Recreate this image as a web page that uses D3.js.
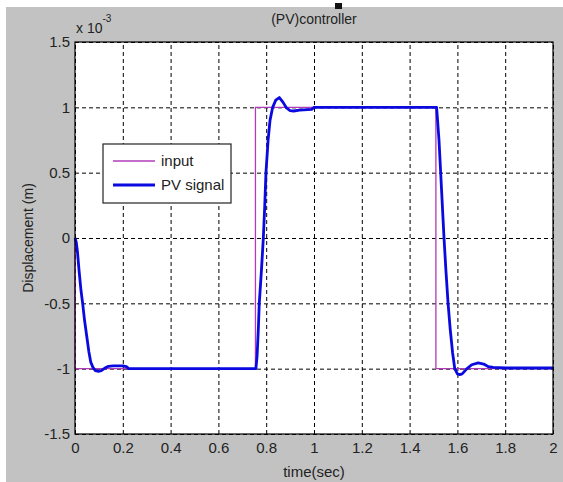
<!DOCTYPE html>
<html>
<head>
<meta charset="utf-8">
<script src="https://cdn.jsdelivr.net/npm/d3@7"></script>
<style>
  body { margin: 0; background: #fff; }
  svg { display: block; font-family: "Liberation Sans", Arial, sans-serif; }
</style>
</head>
<body>
<div id="chart"></div>
<script>
// input step signal (x 10^-3 m)
let inputT = [0, 0, 0.755, 0.755, 1.51, 1.51, 2]
let inputV = [0, -1, -1, 1, 1, -1, -1]

// PV controller response (x 10^-3 m)
let pvT = [0, 0.005, 0.01, 0.017, 0.025, 0.032, 0.04, 0.049, 0.058, 0.066, 0.075, 0.085, 0.098, 0.11, 0.125, 0.14, 0.16, 0.2, 0.215, 0.225,
    0.757, 0.762, 0.767, 0.771, 0.78, 0.788, 0.794, 0.799, 0.808, 0.816, 0.827, 0.84, 0.855, 0.87, 0.885, 0.9, 0.915, 0.94, 0.99, 1.0,
    1.513, 1.517, 1.523, 1.53, 1.537, 1.544, 1.552, 1.561, 1.57, 1.58, 1.589, 1.6, 1.61, 1.62, 1.64, 1.66, 1.687, 1.71, 1.73, 1.75, 1.8, 2.0]
let pvV = [0, -0.03, -0.1, -0.25, -0.4, -0.5, -0.63, -0.75, -0.87, -0.95, -0.99, -1.015, -1.02, -1.015, -0.995, -0.982, -0.978, -0.978, -0.985, -1.0,
    -1.0, -0.9, -0.7, -0.5, -0.25, 0, 0.25, 0.5, 0.75, 0.9, 1.0, 1.055, 1.075, 1.04, 0.995, 0.975, 0.972, 0.978, 0.985, 1.0,
    1.0, 0.9, 0.75, 0.5, 0.25, 0, -0.25, -0.5, -0.7, -0.88, -1.0, -1.04, -1.045, -1.04, -1.0, -0.97, -0.955, -0.965, -0.985, -0.99, -0.995, -0.995]

let xTicks = [0, 0.2, 0.4, 0.6, 0.8, 1, 1.2, 1.4, 1.6, 1.8, 2]
let yTicks = [-1.5, -1, -0.5, 0, 0.5, 1, 1.5]

let width = 563, height = 482
let plotL = 75, plotR = 553, plotT = 42, plotB = 434

let svg = d3.select("#chart").append("svg")
    .attr("width", width)
    .attr("height", height)

// figure background
svg.append("rect")
    .attr("x", 6).attr("y", 7)
    .attr("width", width - 6).attr("height", height - 7)
    .attr("fill", "#c2c2c2")
svg.append("rect")
    .attr("x", 335).attr("y", 3)
    .attr("width", 7).attr("height", 6)
    .attr("fill", "#111")

let x = d3.scaleLinear().domain([0, 2]).range([plotL, plotR])
let y = d3.scaleLinear().domain([-1.5, 1.5]).range([plotB, plotT])

svg.append("rect")
    .attr("x", plotL).attr("y", plotT)
    .attr("width", plotR - plotL).attr("height", plotB - plotT)
    .attr("fill", "#fff")

//坐标轴 + 网格
let xAxis = svg.append("g")
    .attr("transform", `translate(0,${plotB})`)
    .call(d3.axisBottom(x).tickValues(xTicks).tickSize(-(plotB - plotT)).tickPadding(8)
        .tickFormat(d => String(d)))
let yAxis = svg.append("g")
    .attr("transform", `translate(${plotL},0)`)
    .call(d3.axisLeft(y).tickValues(yTicks).tickSize(-(plotR - plotL)).tickPadding(5)
        .tickFormat(d => String(d)))

for (let ax of [xAxis, yAxis]) {
    ax.select(".domain").remove()
    ax.selectAll("line")
        .attr("stroke", "#000")
        .attr("stroke-width", 1)
        .attr("stroke-dasharray", "4,3")
    ax.selectAll("text")
        .attr("font-size", 15)
        .attr("fill", "#222")
        .attr("font-family", "Liberation Sans, Arial, sans-serif")
}

let line = d3.line()
    .x(d => x(d[0]))
    .y(d => y(d[1]))

svg.append("path")
    .datum(d3.zip(inputT, inputV))
    .attr("d", line)
    .attr("fill", "none")
    .attr("stroke", "#b03cb8")
    .attr("stroke-width", 1.3)

svg.append("path")
    .datum(d3.zip(pvT, pvV))
    .attr("d", line)
    .attr("fill", "none")
    .attr("stroke", "#0a0ae0")
    .attr("stroke-width", 2.8)
    .attr("stroke-linejoin", "round")

// frame
svg.append("rect")
    .attr("x", plotL).attr("y", plotT)
    .attr("width", plotR - plotL).attr("height", plotB - plotT)
    .attr("fill", "none")
    .attr("stroke", "#000")
    .attr("stroke-width", 1.2)

// texts
svg.append("text")
    .attr("x", (plotL + plotR) / 2).attr("y", 24)
    .attr("text-anchor", "middle")
    .attr("font-size", 14)
    .attr("fill", "#222")
    .text("(PV)controller")
svg.append("text")
    .attr("x", (plotL + plotR) / 2).attr("y", 477)
    .attr("text-anchor", "middle")
    .attr("font-size", 15)
    .attr("fill", "#222")
    .text("time(sec)")
svg.append("text")
    .attr("transform", `translate(33,${(plotT + plotB) / 2}) rotate(-90)`)
    .attr("text-anchor", "middle")
    .attr("font-size", 14)
    .attr("fill", "#222")
    .text("Displacement (m)")
let exp = svg.append("text")
    .attr("x", 76).attr("y", 33)
    .attr("font-size", 14)
    .attr("fill", "#222")
exp.append("tspan").text("x 10")
exp.append("tspan").attr("dy", -11).attr("font-size", 10).text("-3")

// legend
let lg = svg.append("g")
lg.append("rect")
    .attr("x", 103).attr("y", 144)
    .attr("width", 128).attr("height", 59)
    .attr("fill", "#fff")
    .attr("stroke", "#222")
    .attr("stroke-width", 1.2)
let items = [["input", "#b03cb8", 1.3], ["PV signal", "#0a0ae0", 2.8]]
items.forEach((it, i) => {
    let ly = 161 + i * 24
    lg.append("line")
        .attr("x1", 113).attr("x2", 155)
        .attr("y1", ly).attr("y2", ly)
        .attr("stroke", it[1]).attr("stroke-width", it[2])
    lg.append("text")
        .attr("x", 161).attr("y", ly + 5)
        .attr("font-size", 15)
        .attr("fill", "#222")
        .text(it[0])
})
</script>
</body>
</html>
